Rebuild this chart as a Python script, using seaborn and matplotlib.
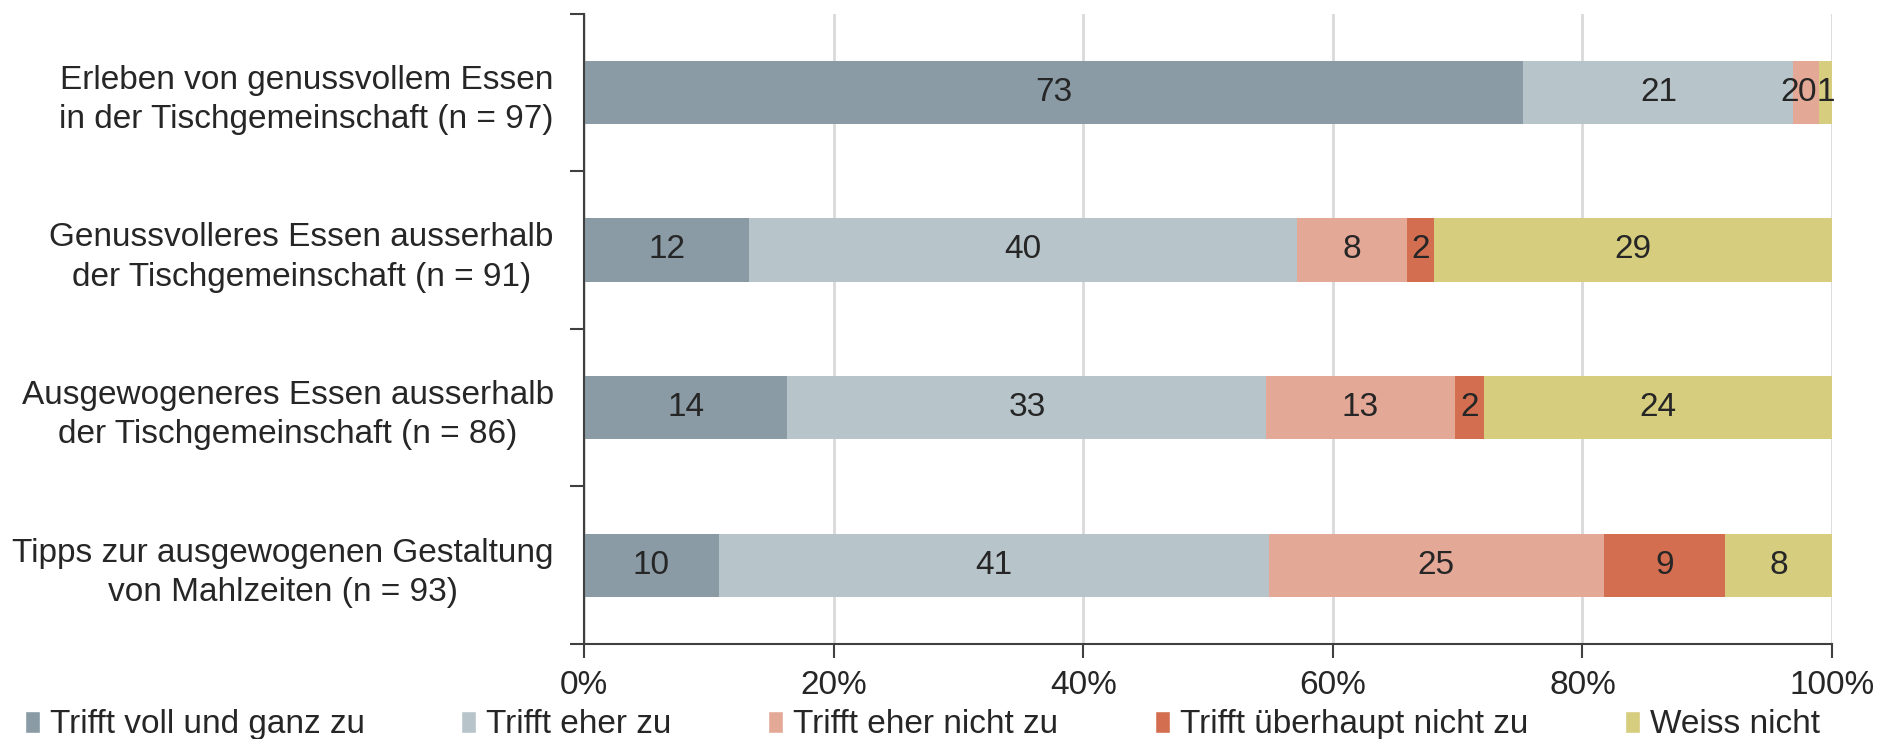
import numpy as np
import pandas as pd
import matplotlib
matplotlib.use("Agg")
import matplotlib.pyplot as plt
import seaborn as sns
from matplotlib.patches import Patch

categories = [
    "Erleben von genussvollem Essen\nin der Tischgemeinschaft (n = 97)",
    "Genussvolleres Essen ausserhalb\nder Tischgemeinschaft (n = 91)",
    "Ausgewogeneres Essen ausserhalb\nder Tischgemeinschaft (n = 86)",
    "Tipps zur ausgewogenen Gestaltung\nvon Mahlzeiten (n = 93)",
]
series = ["Trifft voll und ganz zu", "Trifft eher zu", "Trifft eher nicht zu",
          "Trifft überhaupt nicht zu", "Weiss nicht"]
voll = [73, 12, 14, 10]
eher = [21, 40, 33, 41]
eher_nicht = [2, 8, 13, 25]
ueberhaupt_nicht = [0, 2, 2, 9]
weiss_nicht = [1, 29, 24, 8]
colors = ["#8A9BA5", "#B7C4CA", "#E4A897", "#D36F50", "#D7CD7F"]

sns.set_style("white")
plt.rcParams['font.family'] = ['Liberation Sans', 'DejaVu Sans']
plt.rcParams['text.color'] = '#262626'

counts = pd.DataFrame([voll, eher, eher_nicht, ueberhaupt_nicht, weiss_nicht],
                      index=series, columns=categories).T
n = counts.sum(axis=1)
pct = counts.div(n, axis=0) * 100
cum = pct.cumsum(axis=1)

fig = plt.figure(figsize=(18.79, 7.39), dpi=100)
ax = fig.add_axes([0.311, 0.1286, 0.664, 0.853])

# stacked bars: draw cumulative totals from the outermost segment inward
for s, c in reversed(list(zip(series, colors))):
    sns.barplot(x=cum[s].values, y=categories, color=c, width=0.4,
                orient="h", ax=ax, saturation=1, linewidth=0, zorder=3)

# small labels at the end of the first bar are pushed left (like in the original)
nudge = {(0, 2): -12, (0, 3): -9}

# segment labels (counts)
for i, cat in enumerate(categories):
    left = 0
    for j, s in enumerate(series):
        w = pct.loc[cat, s]
        ax.annotate(str(counts.loc[cat, s]), (left + w / 2, i),
                    xytext=(nudge.get((i, j), 0), 0), textcoords="offset points",
                    ha="center", va="center", fontsize=24, color="#262626", zorder=5)
        left += w

ax.set_xlim(0, 100)
ax.set_ylim(3.5, -0.5)
ax.set_xticks(np.arange(0, 101, 20))
ax.set_xticklabels([f"{v}%" for v in range(0, 101, 20)])
ax.set_yticks(range(len(categories)))
ax.set_yticklabels(categories, multialignment="center", linespacing=1.35)
ax.set_yticks(np.arange(-0.5, 4, 1), minor=True)
ax.tick_params(axis="y", which="major", left=False, length=0, pad=22, labelsize=24)
ax.tick_params(axis="y", which="minor", left=True, length=10, width=1.5,
               color="#404040", direction="out")
ax.tick_params(axis="x", bottom=True, length=10, width=1.5, color="#404040",
               direction="out", labelsize=24, pad=9)
ax.set_xlabel("")
ax.set_ylabel("")

ax.grid(axis="x", color="#D9D9D9", linewidth=2, zorder=0)
ax.set_axisbelow(True)
for sp in ["top", "right"]:
    ax.spines[sp].set_visible(False)
for sp in ["left", "bottom"]:
    ax.spines[sp].set_color("#404040")
    ax.spines[sp].set_linewidth(1.5)
    ax.spines[sp].set_zorder(6)

handles = [Patch(facecolor=c, label=s) for s, c in zip(series, colors)]
fig.legend(handles=handles, loc="center left", bbox_to_anchor=(0.006, 0.019), ncol=5,
           frameon=False, fontsize=24, handlelength=0.45, handleheight=0.65,
           handletextpad=0.3, columnspacing=2.9, borderaxespad=0)

fig.savefig("out.png", dpi=100)
